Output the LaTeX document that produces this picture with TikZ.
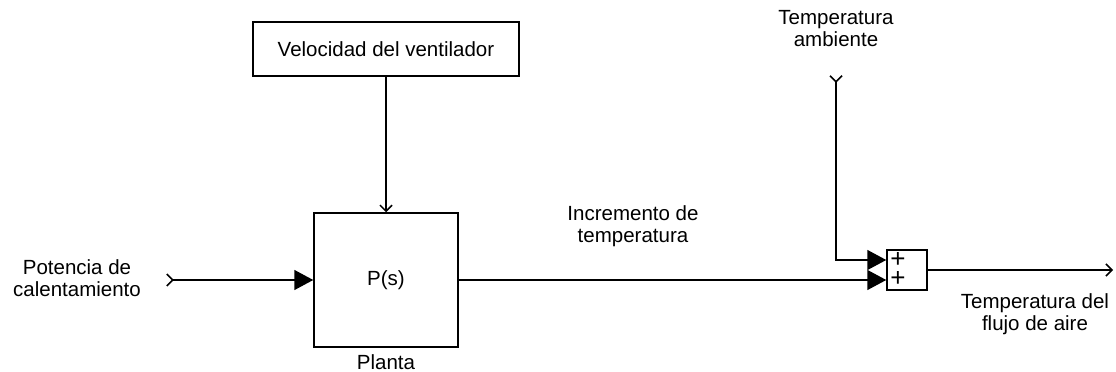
\documentclass[tikz,border=0pt]{standalone}
\usepackage{fontspec}
\setmainfont{Liberation Sans}
\usepackage{tikz}
\usetikzlibrary{arrows.meta}

\begin{document}
\begin{tikzpicture}[
  x=1pt,
  y=1pt,
  every node/.style={
    inner sep=0pt,
    align=center,
    font=\fontsize{20.5}{22}\selectfont
  },
  block/.style={
    draw=black,
    fill=white,
    line width=1.5pt
  },
  signal/.style={
    draw=black,
    line width=1.5pt
  },
  feed/.style={
    signal,
    {Straight Barb[reversed,length=6pt,width=12pt]}-{Triangle[length=19pt,width=20pt]}
  },
  merge/.style={
    signal,
    -{Triangle[length=19pt,width=20pt]}
  },
  outflow/.style={
    signal,
    -{Straight Barb[length=6pt,width=12pt]}
  },
  sign/.style={
    font=\fontsize{26}{26}\selectfont
  },
  sigtext/.style={
    align=center
  }
]

\path[use as bounding box] (0,0) rectangle (1116,372);

% Blocks
\node[block, minimum width=266pt, minimum height=54pt] (fan) at (386,323) {Velocidad del ventilador};
\node[block, minimum width=144pt, minimum height=134pt] (plant) at (386,92) {P(s)};
\node[block, minimum width=40pt, minimum height=40pt] (sum) at (907,102) {};
\node[sign] (plusa) at (898,112) {+};
\node[sign] (plusb) at (898,93) {+};

% Free ends
\coordinate (heatin) at (166,92);
\coordinate (ambin)  at (836,297);
\coordinate (airout) at (1113,102);

% Texts
\node[sigtext, anchor=base] (planta) at (386,2.5) {Planta};
\node[sigtext] (heattxt) at (77,94) {Potencia de\\calentamiento};
\node[sigtext] (incrtxt) at (633,146) {Incremento de\\temperatura};
\node[sigtext] (ambtxt) at (836,343) {Temperatura\\ambiente};
\node[sigtext] (outtxt) at (1035,58) {Temperatura del\\flujo de aire};

% Connectors
\draw[outflow] (fan.south) -- (plant.north);
\draw[feed] (heatin) -- (plant.west);
\draw[merge] (plant.east) -- (plant.east -| sum.west);
\draw[feed] (ambin) |- ([yshift=10pt]sum.west);
\draw[outflow] (sum.east) -- (airout);

\end{tikzpicture}
\end{document}
